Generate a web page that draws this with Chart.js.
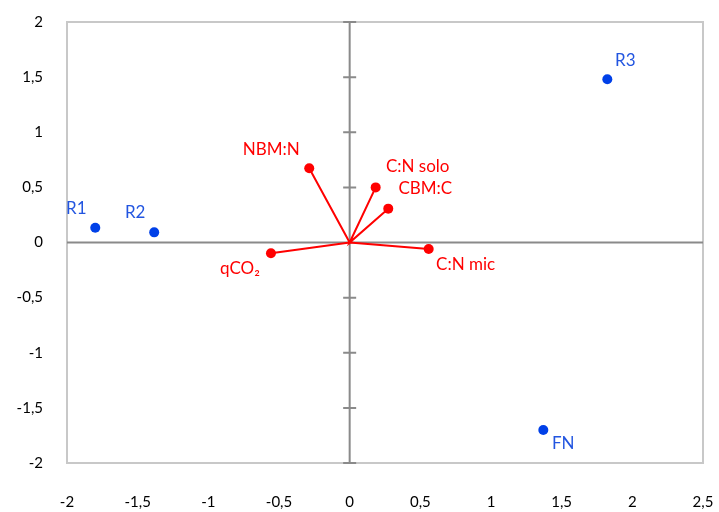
<!DOCTYPE html>
<html>
<head>
<meta charset="utf-8">
<script src="https://cdn.jsdelivr.net/npm/chart.js@4/dist/chart.umd.min.js"></script>
<style>
html,body{margin:0;padding:0;background:#fff;}
#wrap{width:719px;height:512px;position:relative;}
</style>
</head>
<body>
<div id="wrap"><canvas id="c" width="719" height="512"></canvas></div>
<script>
// Site / object scores (blue)
const siteLabels = ["R1", "R2", "R3", "FN"];
const siteX = [-1.80, -1.383, 1.823, 1.370];
const siteY = [0.134, 0.092, 1.48, -1.70];

// Variable vectors (red)
const varLabels = ["NBM:N", "C:N solo", "CBM:C", "C:N mic", "qCO\u2082"];
const varX = [-0.286, 0.184, 0.273, 0.559, -0.557];
const varY = [0.673, 0.50, 0.307, -0.059, -0.098];

// Axis ticks
const xTicks = [-2, -1.5, -1, -0.5, 0, 0.5, 1, 1.5, 2, 2.5];
const yTicks = [-2, -1.5, -1, -0.5, 0, 0.5, 1, 1.5, 2];

const fmt = v => String(v).replace('.', ',');

const FONT = "Lato, 'Open Sans', sans-serif";
const BLUE = "#0040e8";
const BLUE_TXT = "#2255e0";
const RED = "#ff0000";

// label offsets (style only)
const siteOff = [[-19,-19],[-19,-20],[18,-19],[20,14]];
const varOff = [[-38,-19],[42,-21],[37,-20],[37,16],[-31,15]];

const sitePts = siteX.map((x,i)=>({x:x,y:siteY[i]}));
const vecPts = [];
varX.forEach((x,i)=>{ vecPts.push({x:0,y:0}); vecPts.push({x:x,y:varY[i]}); });

const framePlugin = {
  id:'frame',
  beforeDatasetsDraw(chart){
    const {ctx, chartArea:a, scales:{x,y}} = chart;
    ctx.save();
    ctx.strokeStyle = '#c8c8c8';
    ctx.lineWidth = 2;
    ctx.strokeRect(a.left, a.top, a.right-a.left, a.bottom-a.top);
    const x0 = x.getPixelForValue(0), y0 = y.getPixelForValue(0);
    ctx.strokeStyle = '#8a8a8a';
    ctx.lineWidth = 2;
    ctx.beginPath();
    ctx.moveTo(a.left, y0); ctx.lineTo(a.right, y0);
    ctx.moveTo(x0, a.top); ctx.lineTo(x0, a.bottom);
    yTicks.forEach(v=>{
      const py = y.getPixelForValue(v);
      ctx.moveTo(x0-6.5, py); ctx.lineTo(x0+6.5, py);
    });
    ctx.stroke();
    ctx.restore();
  },
  afterDatasetsDraw(chart){
    const {ctx, scales:{x,y}} = chart;
    ctx.save();
    ctx.font = "17px " + FONT;
    ctx.textAlign = 'center';
    ctx.textBaseline = 'middle';
    ctx.fillStyle = BLUE_TXT;
    siteLabels.forEach((t,i)=>{
      const px = x.getPixelForValue(siteX[i]) + siteOff[i][0];
      const py = y.getPixelForValue(siteY[i]) + siteOff[i][1];
      ctx.fillText(t, px, py);
    });
    ctx.fillStyle = RED;
    varLabels.forEach((t,i)=>{
      const px = x.getPixelForValue(varX[i]) + varOff[i][0];
      const py = y.getPixelForValue(varY[i]) + varOff[i][1];
      ctx.fillText(t, px, py);
    });
    ctx.restore();
  }
};

new Chart(document.getElementById('c'), {
  type:'scatter',
  data:{
    datasets:[
      {
        label:'vectors',
        data: vecPts,
        showLine:true,
        borderColor:RED,
        borderWidth:2,
        backgroundColor:RED,
        pointBackgroundColor:RED,
        pointBorderWidth:0,
        pointRadius: ctx => (ctx.dataIndex % 2 === 0 ? 0 : 5),
        pointHoverRadius: 5
      },
      {
        label:'sites',
        data: sitePts,
        showLine:false,
        backgroundColor:BLUE,
        pointBackgroundColor:BLUE,
        pointBorderWidth:0,
        pointRadius:5
      }
    ]
  },
  options:{
    responsive:false,
    animation:false,
    events:[],
    layout:{padding:{left:0,right:16,top:22,bottom:0}},
    plugins:{legend:{display:false}, tooltip:{enabled:false}},
    scales:{
      x:{
        type:'linear', min:-2, max:2.5,
        afterBuildTicks: s => { s.ticks = xTicks.map(v=>({value:v})); },
        afterFit: s => { s.height = 49; s.paddingLeft = 0; s.paddingRight = 0; },
        grid:{display:false, drawTicks:false},
        border:{display:false},
        ticks:{padding:30, color:'#000', font:{family:FONT, size:15}, callback: v => fmt(v), maxRotation:0, autoSkip:false}
      },
      y:{
        type:'linear', min:-2, max:2,
        afterBuildTicks: s => { s.ticks = yTicks.map(v=>({value:v})); },
        afterFit: s => { s.width = 67; s.paddingTop = 0; s.paddingBottom = 0; },
        grid:{display:false, drawTicks:false},
        border:{display:false},
        ticks:{padding:24, color:'#000', font:{family:FONT, size:15}, callback: v => fmt(v), autoSkip:false}
      }
    }
  },
  plugins:[framePlugin]
});
</script>
</body>
</html>
